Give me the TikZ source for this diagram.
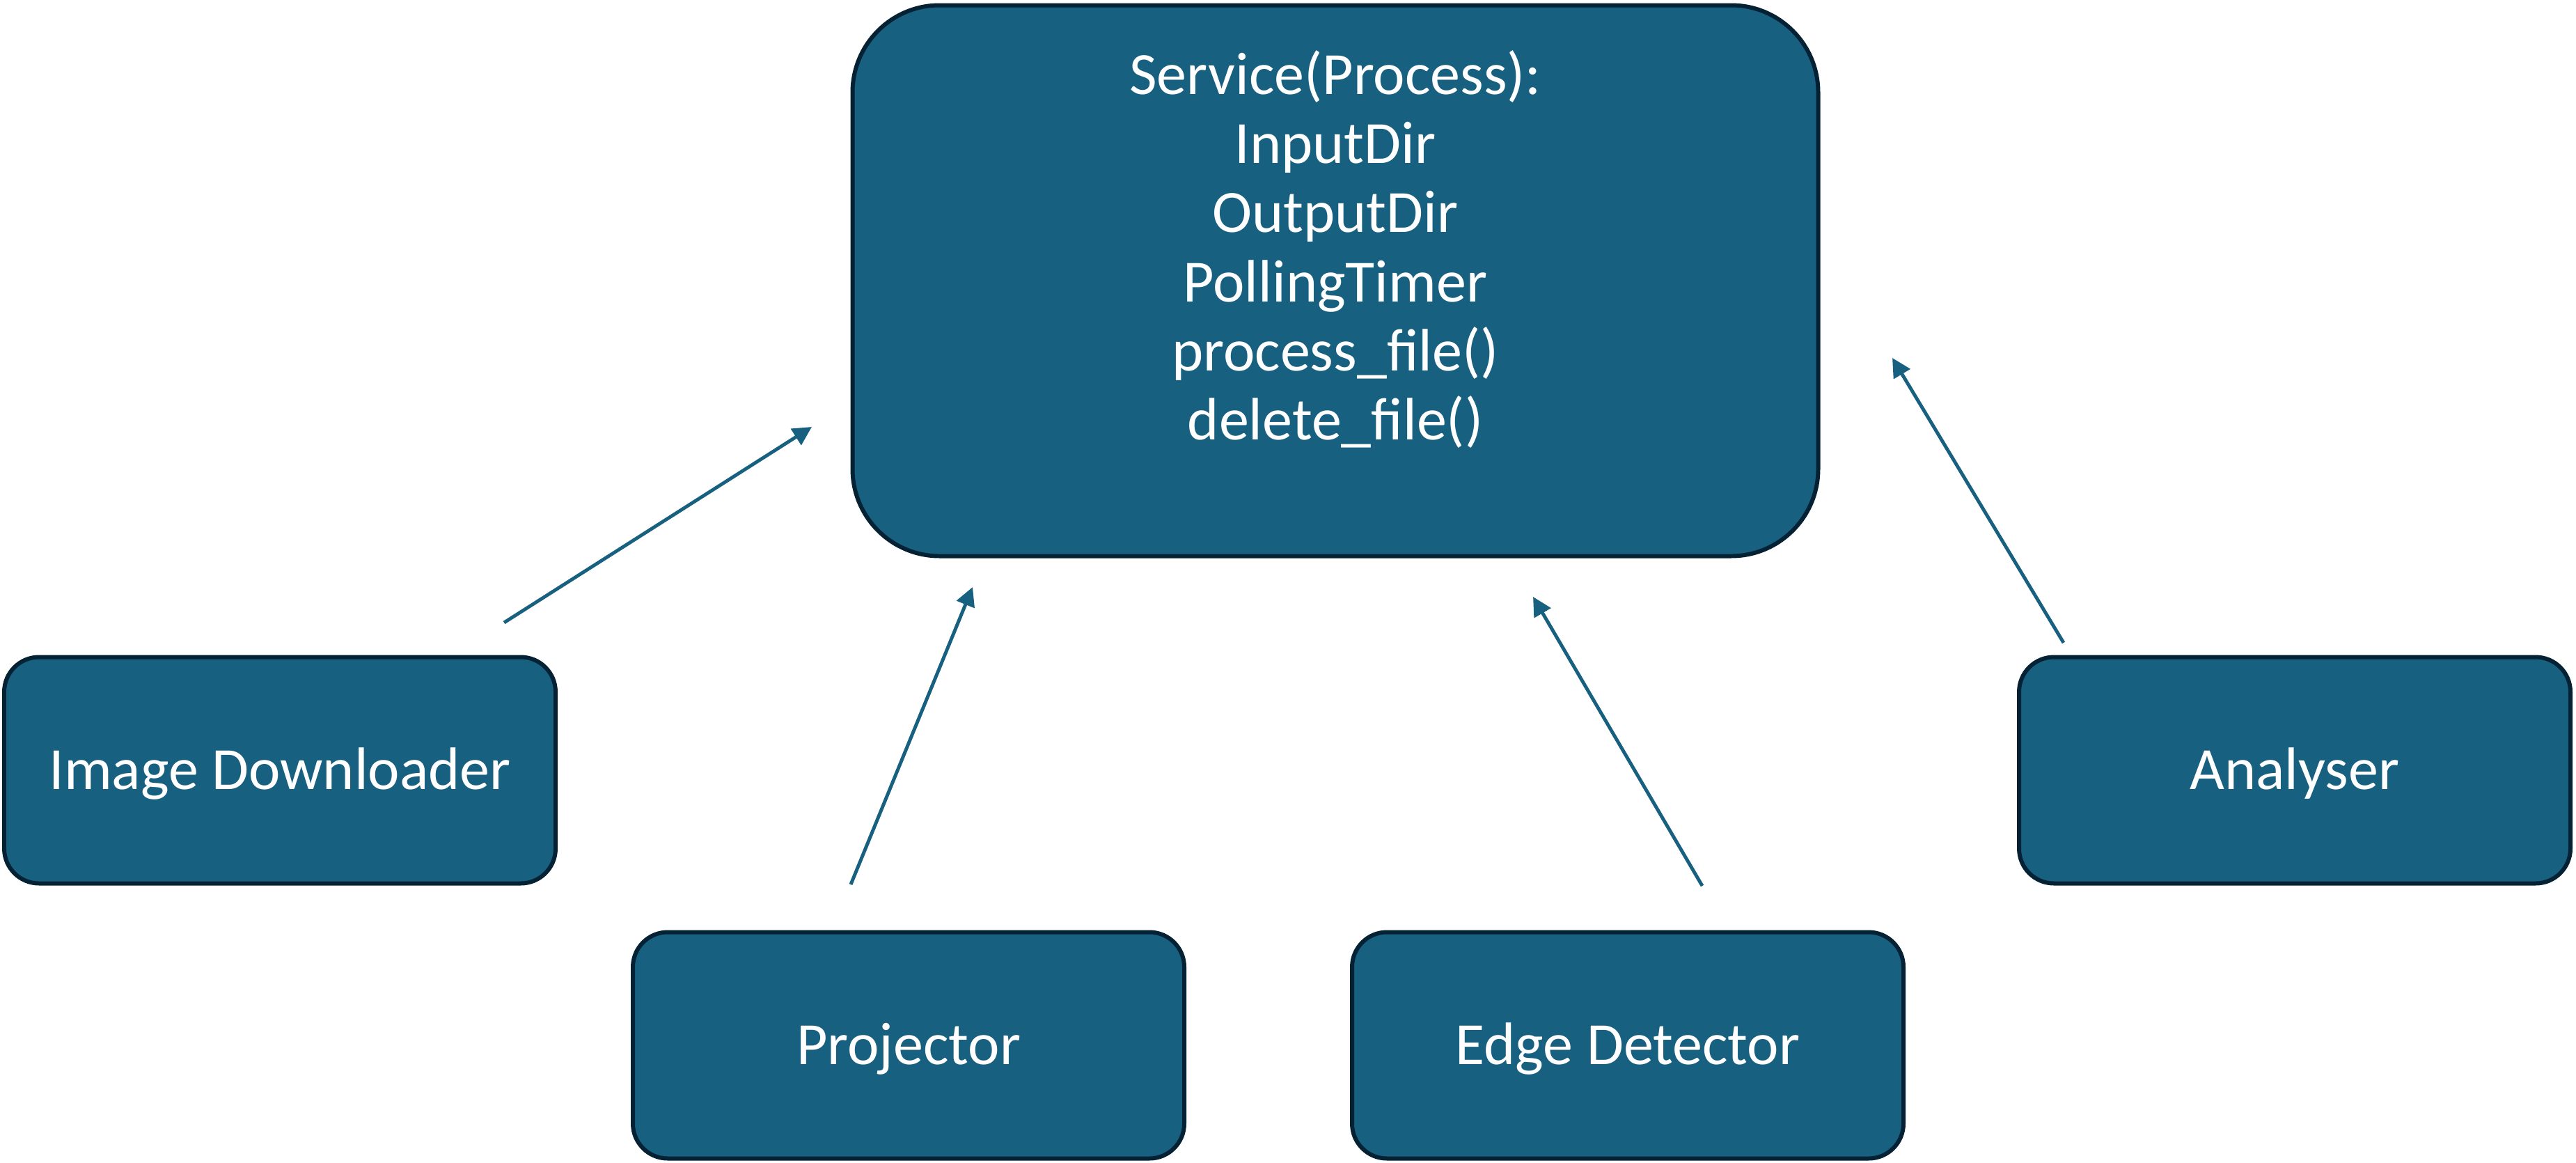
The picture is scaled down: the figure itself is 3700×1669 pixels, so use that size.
\documentclass[tikz,border=0pt]{standalone}
\usepackage{fontspec}
\setmainfont{Carlito}
\usepackage{tikz}
\usetikzlibrary{arrows.meta}
\definecolor{boxblue}{HTML}{17607F}
\definecolor{boxedge}{HTML}{052235}

\begin{document}
\begin{tikzpicture}[x=0.1mm,y=-0.1mm,
    modbox/.style={draw=boxedge, line width=1.7pt, fill=boxblue, rounded corners=5mm,
        minimum width=79.2mm, minimum height=32.5mm, inner sep=0pt, text=white,
        font=\fontsize{24.5}{28.2}\selectfont, text height=15.8pt, text depth=0pt},
    flow/.style={draw=boxblue, line width=1.4pt, -{Triangle[length=2.7mm,width=2.7mm]}}]
        \useasboundingbox (0,0) rectangle (3700,1669);
        % service in the middle
        \node[modbox, minimum width=138.7mm, minimum height=79.1mm, rounded corners=12.5mm] (service) at (1918,403) {};
        \node[anchor=north, align=center, inner sep=0pt, text=white, font=\fontsize{24.5}{28.2}\selectfont] (servicetext) at (1918,72)
            {Service(Process):\\InputDir\\OutputDir\\PollingTimer\\process\_file()\\delete\_file()};
        % the workers
        \node[modbox] (downloader) at (402,1106) {Image Downloader};
        \node[modbox] (analyser) at (3296,1106) {Analyser};
        \node[modbox] (projector) at (1305,1501) {Projector};
        \node[modbox] (edge) at (2338,1501) {Edge Detector};
        % arrow ends
        \coordinate (downloader-out) at (724,894);
        \coordinate (downloader-in) at (1166,613);
        \coordinate (projector-out) at (1222,1270);
        \coordinate (projector-in) at (1397,843);
        \coordinate (edge-out) at (2445,1272);
        \coordinate (edge-in) at (2202,857);
        \coordinate (analyser-out) at (2964,923);
        \coordinate (analyser-in) at (2718,514);
        \draw[flow] (downloader-out) -- (downloader-in);
        \draw[flow] (projector-out) -- (projector-in);
        \draw[flow] (edge-out) -- (edge-in);
        \draw[flow] (analyser-out) -- (analyser-in);
    \end{tikzpicture}
\end{document}
